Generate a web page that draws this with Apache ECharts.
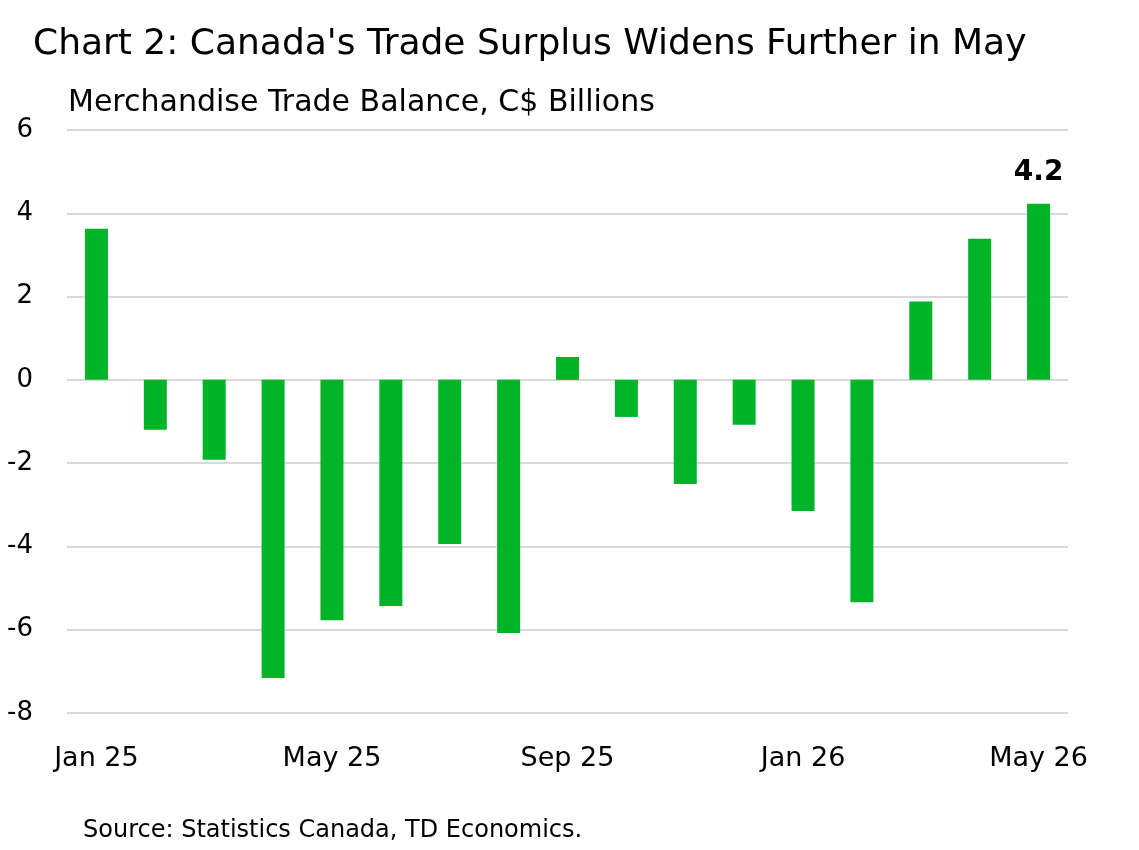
<!DOCTYPE html>
<html><head><meta charset="utf-8">
<script src="https://cdn.jsdelivr.net/npm/echarts@6/dist/echarts.min.js"></script>
<style>html,body{margin:0;padding:0;background:#fff}#c{width:1139px;height:850px}</style>
</head><body><div id="c"></div>
<script>
const categories = ['Jan 25','Feb 25','Mar 25','Apr 25','May 25','Jun 25','Jul 25','Aug 25','Sep 25','Oct 25','Nov 25','Dec 25','Jan 26','Feb 26','Mar 26','Apr 26','May 26'];
const balance = [3.63,-1.2,-1.92,-7.16,-5.77,-5.43,-3.94,-6.08,0.55,-0.89,-2.5,-1.08,-3.15,-5.34,1.88,3.39,4.23];
const yTicks = {min:-8, max:6, interval:2};
const titleText = "Chart 2: Canada's Trade Surplus Widens Further in May";
const subtitleText = "Merchandise Trade Balance, C$ Billions";
const sourceText = "Source: Statistics Canada, TD Economics.";

const FONT = 'DejaVu Sans';
const chart = echarts.init(document.getElementById('c'));
chart.setOption({
  backgroundColor:'#fff',
  animation:false,
  textStyle:{fontFamily:FONT},
  title:[
    {text:titleText,left:33,top:27,padding:0,textStyle:{fontFamily:FONT,fontSize:36,fontWeight:'normal',color:'#000'}},
    {text:subtitleText,left:68,top:88,padding:0,textStyle:{fontFamily:FONT,fontSize:30,fontWeight:'normal',color:'#000'}},
    {text:sourceText,left:83,top:819,padding:0,textStyle:{fontFamily:FONT,fontSize:24,fontWeight:'normal',color:'#000'}}
  ],
  grid:{left:67,right:71,top:130,bottom:137,containLabel:false},
  xAxis:{type:'category',data:categories,
    axisLine:{show:false},axisTick:{show:false},
    axisLabel:{interval:3,margin:32,fontSize:27,color:'#000',fontFamily:FONT}},
  yAxis:{type:'value',min:yTicks.min,max:yTicks.max,interval:yTicks.interval,
    axisLine:{show:false},axisTick:{show:false},
    axisLabel:{margin:34,fontSize:26,color:'#000',fontFamily:FONT}},
  series:[{type:'bar',data:balance.map((v,i)=>({value:v,label:{show:i===balance.length-1,position:'top',distance:17,formatter:p=>p.value.toFixed(1),fontSize:28,fontWeight:'bold',color:'#000',fontFamily:FONT}})),
    barWidth:23,itemStyle:{color:'#00b427'}}]
});
chart.setOption({yAxis:{splitLine:{lineStyle:{color:'#d9d9d9',width:2}}}});
</script></body></html>
